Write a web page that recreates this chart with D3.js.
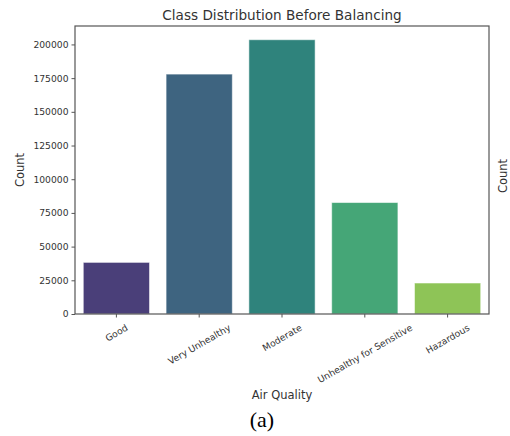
<!DOCTYPE html>
<html>
<head>
<meta charset="utf-8">
<script src="https://cdn.jsdelivr.net/npm/d3@7"></script>
<style>
  html, body { margin: 0; padding: 0; background: #fff; }
  svg { display: block; }
  text { font-family: "DejaVu Sans", sans-serif; fill: #333; }
</style>
</head>
<body>
<svg id="chart" width="510" height="436"></svg>
<script>
// Class counts per air-quality label
const categories = ["Good", "Very Unhealthy", "Moderate", "Unhealthy for Sensitive", "Hazardous"];
const counts = [38300, 178000, 203500, 82700, 23000];
const barColors = ["#4a3f79", "#3e6480", "#2f837c", "#45a677", "#8ec457"];
const yTicks = [0, 25000, 50000, 75000, 100000, 125000, 150000, 175000, 200000];

const svg = d3.select("#chart");
const margin = { left: 75, right: 21, top: 26, bottom: 122 };
const W = 510, H = 436;
const plotW = W - margin.left - margin.right;
const plotH = H - margin.top - margin.bottom;

const x = d3.scaleBand().domain(categories).range([0, plotW]).paddingInner(0.2).paddingOuter(0.1);
const y = d3.scaleLinear().domain([0, d3.max(counts) * 1.05]).range([plotH, 0]);

const g = svg.append("g").attr("transform", `translate(${margin.left},${margin.top})`);

// Bars
g.selectAll("rect.bar")
  .data(categories)
  .join("rect")
  .attr("class", "bar")
  .attr("x", d => x(d))
  .attr("width", x.bandwidth())
  .attr("y", (d, i) => y(counts[i]))
  .attr("height", (d, i) => plotH - y(counts[i]))
  .attr("fill", (d, i) => barColors[i])
  .attr("stroke", "#ffffff")
  .attr("stroke-opacity", 0.55)
  .attr("stroke-width", 1);

// Y axis
const yAxis = g.append("g")
  .call(d3.axisLeft(y).tickValues(yTicks).tickFormat(d3.format("d")).tickSize(3.5).tickPadding(3));
yAxis.selectAll("text").style("font-size", "9.2px").attr("fill", "#333");
yAxis.selectAll("line").attr("stroke", "#555");
yAxis.select(".domain").remove();

// X axis ticks
const xAxis = g.append("g").attr("transform", `translate(0,${plotH})`)
  .call(d3.axisBottom(x).tickSize(3.5).tickFormat(""));
xAxis.selectAll("line").attr("stroke", "#555");
xAxis.select(".domain").remove();

// Rotated category labels, centered under each tick
const angle = 30 * Math.PI / 180;
const labelTop = plotH + 8;
const fs = 9.2;
const lbls = g.append("g").selectAll("text.xl")
  .data(categories)
  .join("text")
  .attr("class", "xl")
  .style("font-size", fs + "px")
  .attr("text-anchor", "middle")
  .attr("dominant-baseline", "central")
  .text(d => d);
lbls.each(function(d) {
  const w = this.getComputedTextLength();
  const h = fs * 1.15;
  const cx = x(d) + x.bandwidth() / 2;
  const cy = labelTop + (w * Math.sin(angle) + h * Math.cos(angle)) / 2;
  d3.select(this).attr("transform", `translate(${cx},${cy}) rotate(-30)`);
});

// Plot frame
g.append("rect")
  .attr("x", 0).attr("y", 0).attr("width", plotW).attr("height", plotH)
  .attr("fill", "none").attr("stroke", "#555").attr("stroke-width", 1.2);

// Titles and axis labels
svg.append("text")
  .attr("x", margin.left + plotW / 2).attr("y", 20)
  .attr("text-anchor", "middle").style("font-size", "13.6px").attr("fill", "#222")
  .text("Class Distribution Before Balancing");

svg.append("text")
  .attr("transform", `translate(24,${margin.top + plotH / 2}) rotate(-90)`)
  .attr("text-anchor", "middle").style("font-size", "11.5px").attr("fill", "#222")
  .text("Count");

svg.append("text")
  .attr("transform", `translate(507,${margin.top + plotH / 2 + 6}) rotate(-90)`)
  .attr("text-anchor", "middle").style("font-size", "11.5px").attr("fill", "#222")
  .text("Count");

svg.append("text")
  .attr("x", margin.left + plotW / 2).attr("y", 399)
  .attr("text-anchor", "middle").style("font-size", "11.5px").attr("fill", "#222")
  .text("Air Quality");

svg.append("text")
  .attr("x", 262).attr("y", 427)
  .attr("text-anchor", "middle")
  .style("font-family", "'Liberation Serif', 'DejaVu Serif', serif")
  .style("font-size", "22px").style("fill", "#000")
  .text("(a)");
</script>
</body>
</html>
